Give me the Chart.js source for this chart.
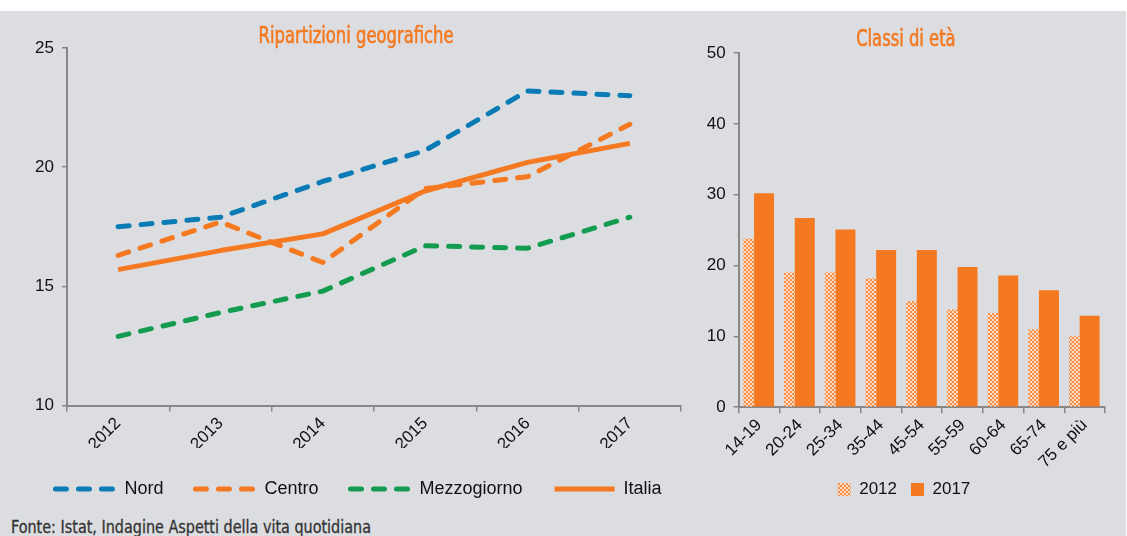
<!DOCTYPE html>
<html>
<head>
<meta charset="utf-8">
<script src="https://cdn.jsdelivr.net/npm/chart.js@4/dist/chart.umd.min.js"></script>
<style>
  html, body { margin: 0; padding: 0; background: #ffffff; }
  #panel { position: absolute; left: 0; top: 11px; width: 1126px; height: 525px; background: #dcdde0; overflow: hidden; }
  #geo { position: absolute; left: 0; top: 0; }
  #age { position: absolute; left: 690px; top: 0; }
  .cond { position: absolute; white-space: nowrap; font-family: 'DejaVu Sans Condensed', 'DejaVu Sans', sans-serif; font-weight: normal; }
  .title { font-size: 23px; line-height: 23px; color: #f47920; -webkit-text-stroke: 0.6px #f47920; }
  #fonte { left: 11px; top: 507px; font-size: 18px; line-height: 18px; color: #333333; -webkit-text-stroke: 0.3px #333333; transform-origin: 0 0; }
</style>
</head>
<body>
<div id="panel">
  <canvas id="geo" width="740" height="497"></canvas>
  <canvas id="age" width="432" height="497"></canvas>
  <div class="cond title" id="title-geo" data-cx="355.8" data-w="195">Ripartizioni geografiche</div>
  <div class="cond title" id="title-age" data-cx="906.3" data-w="99.5">Classi di età</div>
  <div class="cond" id="fonte" data-w="360">Fonte: Istat, Indagine Aspetti della vita quotidiana</div>
</div>
<script>
// Ripartizioni geografiche (valori percentuali)
const years = ['2012', '2013', '2014', '2015', '2016', '2017'];
const nord = [17.5, 17.9, 19.4, 20.7, 23.2, 23.0];
const centro = [16.3, 17.7, 16.0, 19.1, 19.6, 21.8];
const mezzogiorno = [12.9, 13.9, 14.8, 16.7, 16.6, 17.9];
const italia = [15.7, 16.5, 17.2, 19.0, 20.2, 21.0];

// Classi di età (valori percentuali)
const ageClasses = ['14-19', '20-24', '25-34', '35-44', '45-54', '55-59', '60-64', '65-74', '75 e più'];
const values2012 = [23.8, 19.0, 19.0, 18.2, 15.0, 13.8, 13.3, 11.0, 10.0];
const values2017 = [30.2, 26.7, 25.1, 22.2, 22.2, 19.8, 18.6, 16.5, 12.9];

const ORANGE = '#f47920';
const BLUE = '#0b7bb6';
const GREEN = '#139c50';
const AXIS = '#878787';
const TEXT = '#111111';
const TICK_FONT = { family: "'Liberation Sans', Arial, sans-serif", size: 17 };
const LEGEND_FONT = { family: "'Liberation Sans', Arial, sans-serif", size: 18 };

// condensed headings: squeeze to the wanted width
document.querySelectorAll('.cond').forEach(el => {
  const w = el.getBoundingClientRect().width;
  const s = parseFloat(el.dataset.w) / w;
  if (el.dataset.cx) {
    el.style.left = (parseFloat(el.dataset.cx) - w / 2) + 'px';
    el.style.transformOrigin = '50% 0';
  }
  el.style.transform = 'scaleX(' + s + ')';
});
document.getElementById('title-geo').style.top = '12.6px';
document.getElementById('title-age').style.top = '15.6px';

// dotted fill for the 2012 bars
function dotPattern() {
  const c = document.createElement('canvas');
  c.width = 4; c.height = 4;
  const g = c.getContext('2d');
  g.fillStyle = '#fbdcc6';
  g.fillRect(0, 0, 4, 4);
  g.fillStyle = '#f58d45';
  g.fillRect(0, 0, 2, 2);
  g.fillRect(2, 2, 2, 2);
  return g.createPattern(c, 'repeat');
}

function lineSet(label, data, color, dashed, order) {
  return {
    label, data, order,
    borderColor: color,
    backgroundColor: color,
    borderWidth: 5,
    borderDash: dashed ? [11, 12] : [],
    borderCapStyle: dashed ? 'round' : 'butt',
    borderJoinStyle: 'round',
    pointRadius: 0,
    pointHoverRadius: 0,
    tension: 0,
    fill: false
  };
}

// legend entries drawn as short line samples with the dataset's own dash
function lineLegendItems(chart) {
  return chart.data.datasets.map((ds, i) => ({
    text: ds.label,
    fillStyle: ds.borderColor,
    strokeStyle: ds.borderColor,
    fontColor: TEXT,
    lineWidth: ds.borderWidth,
    lineDash: ds.borderDash,
    lineCap: ds.borderCapStyle,
    pointStyle: 'line',
    hidden: false,
    datasetIndex: i
  }));
}

new Chart(document.getElementById('geo'), {
  type: 'line',
  data: {
    labels: years,
    datasets: [
      lineSet('Nord', nord, BLUE, true, 1),
      lineSet('Centro', centro, ORANGE, true, 1),
      lineSet('Mezzogiorno', mezzogiorno, GREEN, true, 1),
      lineSet('Italia', italia, ORANGE, false, 0)
    ]
  },
  options: {
    responsive: false,
    animation: false,
    devicePixelRatio: 1,
    layout: { padding: { left: 0, right: 23, top: 37, bottom: 0 } },
    plugins: {
      title: { display: false },
      legend: {
        position: 'bottom',
        labels: {
          usePointStyle: true,
          pointStyleWidth: 60,
          boxHeight: 18,
          padding: 32,
          color: TEXT,
          font: LEGEND_FONT,
          generateLabels: lineLegendItems
        }
      },
      tooltip: { enabled: false }
    },
    scales: {
      x: {
        offset: true,
        afterFit: s => { s.height = 42.5; },
        grid: { offset: true, drawOnChartArea: false, drawTicks: true, tickLength: 6, color: AXIS, lineWidth: 1.5 },
        border: { color: AXIS, width: 2 },
        ticks: { color: TEXT, font: TICK_FONT, minRotation: 45, maxRotation: 45, autoSkip: false, padding: 2 }
      },
      y: {
        min: 10, max: 25,
        afterFit: s => { s.width = 67; },
        grid: { drawOnChartArea: false, drawTicks: true, tickLength: 5, color: AXIS, lineWidth: 1.5 },
        border: { color: AXIS, width: 2 },
        ticks: { stepSize: 5, color: TEXT, font: TICK_FONT, padding: 8 }
      },
      // empty margin on the right of the plot, keeps the legend centred under the page column
      yRight: {
        position: 'right',
        display: false,
        min: 10, max: 25,
        afterFit: s => { s.width = 36; }
      }
    }
  }
});

new Chart(document.getElementById('age'), {
  type: 'bar',
  data: {
    labels: ageClasses,
    datasets: [
      {
        label: '2012', data: values2012,
        backgroundColor: dotPattern(), borderWidth: 0,
        categoryPercentage: 1.012, barPercentage: 0.52
      },
      {
        label: '2017', data: values2017,
        backgroundColor: ORANGE, borderWidth: 0,
        categoryPercentage: 0.491, barPercentage: 2.0
      }
    ]
  },
  options: {
    responsive: false,
    animation: false,
    devicePixelRatio: 1,
    layout: { padding: { left: 13, right: 17, top: 42, bottom: 0 } },
    plugins: {
      title: { display: false },
      legend: {
        position: 'bottom',
        labels: {
          boxWidth: 13,
          boxHeight: 13,
          padding: 14,
          color: TEXT,
          font: TICK_FONT
        }
      },
      tooltip: { enabled: false }
    },
    scales: {
      x: {
        afterFit: s => { s.height = 59.8; },
        grid: { offset: true, drawOnChartArea: false, drawTicks: true, tickLength: 6, color: AXIS, lineWidth: 1.5 },
        border: { color: AXIS, width: 2 },
        ticks: { color: TEXT, font: TICK_FONT, minRotation: 45, maxRotation: 45, autoSkip: false, padding: 2 }
      },
      y: {
        min: 0, max: 50,
        afterFit: s => { s.width = 35.7; },
        grid: { drawOnChartArea: false, drawTicks: true, tickLength: 5, color: AXIS, lineWidth: 1.5 },
        border: { color: AXIS, width: 2 },
        ticks: { stepSize: 10, color: TEXT, font: TICK_FONT, padding: 8 }
      }
    }
  }
});
</script>
</body>
</html>
